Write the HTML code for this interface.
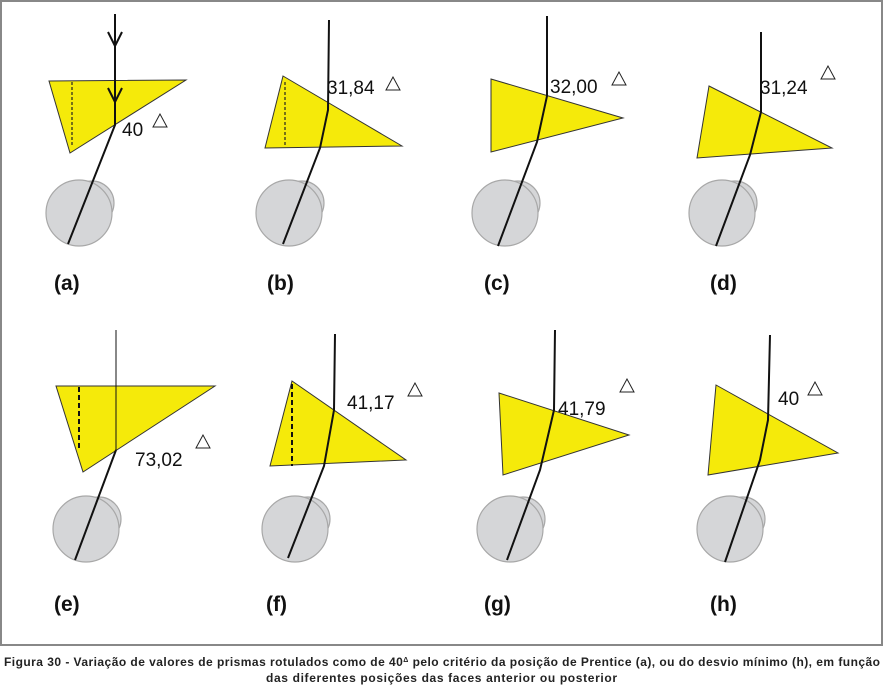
<!DOCTYPE html>
<html><head><meta charset="utf-8"><style>
body{margin:0;background:#fff;width:884px;height:686px;overflow:hidden;font-family:"Liberation Sans",sans-serif}
</style></head><body>
<svg width="884" height="686" xmlns="http://www.w3.org/2000/svg" font-family="Liberation Sans, sans-serif">
<rect x="1" y="1" width="881" height="644" fill="none" stroke="#888" stroke-width="2"/>
<g id="eyes" fill="#d5d6d8" stroke="#a8a8a8" stroke-width="1.2">
<circle cx="92" cy="203" r="22"/><circle cx="79" cy="213" r="33"/>
<circle cx="302" cy="203" r="22"/><circle cx="289" cy="213" r="33"/>
<circle cx="518" cy="203" r="22"/><circle cx="505" cy="213" r="33"/>
<circle cx="735" cy="203" r="22"/><circle cx="722" cy="213" r="33"/>
<circle cx="99" cy="519" r="22"/><circle cx="86" cy="529" r="33"/>
<circle cx="308" cy="519" r="22"/><circle cx="295" cy="529" r="33"/>
<circle cx="523" cy="519" r="22"/><circle cx="510" cy="529" r="33"/>
<circle cx="743" cy="519" r="22"/><circle cx="730" cy="529" r="33"/>
</g>
<g fill="#f5ea0a" stroke="#333" stroke-width="1">
<polygon points="49,81 186,80 70,153"/>
<polygon points="283,76 402,146 265,148"/>
<polygon points="491,79 623,118 491,152"/>
<polygon points="709,86 832,148 697,158"/>
<polygon points="56,386 215,386 83,472"/>
<polygon points="292,381 406,460 270,466"/>
<polygon points="499,393 629,435 503,475"/>
<polygon points="716,385 838,453 708,475"/>
</g>
<g stroke="#222" stroke-width="1.2" stroke-dasharray="3,2" fill="none">
<line x1="72" y1="82" x2="72" y2="145"/><line x1="285" y1="82" x2="285" y2="147"/>
</g>
<g stroke="#111" stroke-width="2" stroke-dasharray="5,3" fill="none">
<line x1="79" y1="387" x2="79" y2="450"/><line x1="292" y1="384" x2="292" y2="466"/>
</g>
<g stroke="#111" stroke-width="2" fill="none">
<polyline points="115,14 115,125 68,244"/>
<polyline points="108,32 115,46 122,32"/><polyline points="108,88 115,102 122,88"/>
<polyline points="329,20 328,110 320,148 283,244"/>
<polyline points="547,16 547,96 537,142 498,246"/>
<polyline points="761,32 761,112 750,155 716,246"/>
<polyline points="335,334 334,410 324,466 288,558"/>
<polyline points="555,330 554,410 540,470 507,560"/>
<polyline points="770,335 768,420 760,460 725,562"/>
<polyline points="116,450 75,560"/>
</g>
<line x1="116" y1="330" x2="116" y2="450" stroke="#111" stroke-width="1"/>
<g font-size="19" fill="#111">
<text x="122" y="136">40</text><text x="327" y="94">31,84</text><text x="550" y="93">32,00</text><text x="760" y="94">31,24</text>
<text x="135" y="466">73,02</text><text x="347" y="409">41,17</text><text x="558" y="415">41,79</text><text x="778" y="405">40</text>
</g>
<g fill="none" stroke="#222" stroke-width="1">
<polygon points="160,114 153,127 167,127"/><polygon points="393,77 386,90 400,90"/><polygon points="619,72 612,85 626,85"/><polygon points="828,66 821,79 835,79"/>
<polygon points="203,435 196,448 210,448"/><polygon points="415,383 408,396 422,396"/><polygon points="627,379 620,392 634,392"/><polygon points="815,382 808,395 822,395"/>
</g>
<g font-size="21" font-weight="bold" fill="#111">
<text x="54" y="290">(a)</text><text x="267" y="290">(b)</text><text x="484" y="290">(c)</text><text x="710" y="290">(d)</text>
<text x="54" y="611">(e)</text><text x="266" y="611">(f)</text><text x="484" y="611">(g)</text><text x="710" y="611">(h)</text>
</g>
<g font-size="12" font-weight="bold" fill="#222">
<text x="4" y="666" textLength="876" lengthAdjust="spacing">Figura 30 - Variação de valores de prismas rotulados como de 40<tspan font-size="7" dy="-4">Δ</tspan><tspan dy="4"> pelo critério da posição de Prentice (a), ou do desvio mínimo (h), em função</tspan></text>
<text x="266" y="682" textLength="351" lengthAdjust="spacing">das diferentes posições das faces anterior ou posterior</text>
</g>
</svg>
</body></html>
